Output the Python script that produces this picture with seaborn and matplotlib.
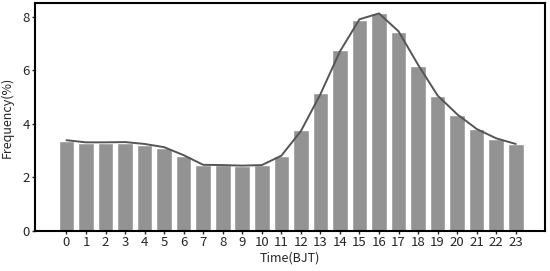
import seaborn as sns
import pandas as pd
import matplotlib
matplotlib.use("Agg")
import matplotlib.pyplot as plt

hours = list(range(24))
freq = [3.35, 3.28, 3.28, 3.28, 3.21, 3.09, 2.79, 2.44, 2.44, 2.40, 2.44, 2.80,
        3.75, 5.15, 6.75, 7.89, 8.12, 7.43, 6.14, 5.02, 4.32, 3.80, 3.44, 3.24]
curve = [3.38, 3.30, 3.30, 3.31, 3.24, 3.12, 2.82, 2.46, 2.45, 2.43, 2.45, 2.80,
         3.72, 5.10, 6.70, 7.90, 8.12, 7.45, 6.20, 5.05, 4.35, 3.80, 3.45, 3.24]

df = pd.DataFrame({"hour": hours, "freq": freq, "curve": curve})

sns.set_theme(style="ticks")
plt.rcParams['font.family'] = ['Noto Sans CJK SC', 'DejaVu Sans']

fig, ax = plt.subplots(figsize=(5.5, 2.71), dpi=100)
sns.barplot(data=df, x="hour", y="freq", color="#939393", saturation=1,
            width=0.8, ax=ax)
sns.lineplot(x=range(24), y=df["curve"], color="#555555", linewidth=1.4, ax=ax)

ax.set_xlim(-1.6, 24.5)
ax.set_ylim(0, 8.5)
ax.set_yticks([0, 2, 4, 6, 8])
ax.set_xticks(range(24))
ax.set_xticklabels([str(h) for h in hours])
ax.set_xlabel("Time(BJT)", fontsize=9, labelpad=2)
ax.set_ylabel("Frequency(%)", fontsize=9, labelpad=6)
ax.tick_params(axis="both", labelsize=9.5, length=2, width=1, pad=2)
for s in ax.spines.values():
    s.set_linewidth(1.5)
    s.set_color("black")

fig.subplots_adjust(left=0.064, right=0.991, top=0.988, bottom=0.149)
fig.savefig("out.png", dpi=100)
